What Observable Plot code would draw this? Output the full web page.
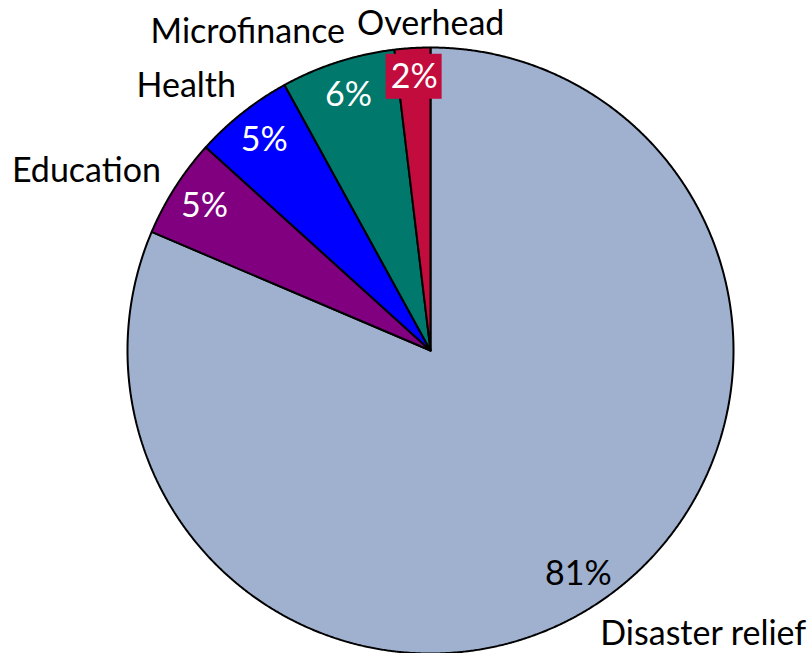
<!DOCTYPE html>
<html><head><meta charset="utf-8">
<script src="https://cdn.jsdelivr.net/npm/d3@7"></script>
<script src="https://cdn.jsdelivr.net/npm/@observablehq/plot@0.6"></script>
<style>body{margin:0;background:#fff} #chart svg{display:block}</style>
</head><body><div id="chart"></div>
<script>
// ---- data ----
const categories = ["Disaster relief", "Education", "Health", "Microfinance", "Overhead"];
const shares = [81.4, 5.3, 5.3, 6.1, 1.9];
const percentLabels = ["81%", "5%", "5%", "6%", "2%"];

// ---- styles / layout ----
const sliceColors = ["#9fb1cf", "#800080", "#0000ff", "#00786b", "#c20c3e"];
const percentInk = ["black", "white", "white", "white", "white"];
const percentBoxed = [false, false, false, false, true];
const percentRadius = [0.885, 0.885, 0.885, 0.885, 0.905];
const nameRadius = 1.04;
const nameNudgePx = [[-4, 8], [-4, 1], [1, -6], [11, -7], [19, -1]];
const R_PX = 303; // pixel radius = one data unit
const FONT = "Lato, 'Open Sans', sans-serif";
const FONT_SIZE = 34;

const arcs = d3.pie().sort(null).value(d => d)(shares);

// slice outlines (polygons in unit-circle data space, north = 0, clockwise)
const outline = [];
arcs.forEach((s, i) => {
  const n = Math.max(2, Math.ceil((s.endAngle - s.startAngle) / (Math.PI / 720)));
  outline.push({name: categories[i], x: 0, y: 0});
  for (let k = 0; k <= n; k++) {
    const a = s.startAngle + (s.endAngle - s.startAngle) * k / n;
    outline.push({name: categories[i], x: Math.sin(a), y: Math.cos(a)});
  }
  outline.push({name: categories[i], x: 0, y: 0});
});

const mid = s => (s.startAngle + s.endAngle) / 2;

const pct = arcs.map((s, i) => {
  const a = mid(s), r = percentRadius[i];
  return {i, text: percentLabels[i], x: r * Math.sin(a), y: r * Math.cos(a), ink: percentInk[i], boxed: percentBoxed[i]};
});

const names = arcs.map((s, i) => {
  const a = mid(s);
  const sx = Math.sin(a), cy = Math.cos(a);
  const horiz = Math.abs(sx) < 0.1 ? "middle" : sx > 0 ? "start" : "end";
  const vert = cy < 0 ? "top" : "bottom";
  return {
    text: categories[i],
    x: nameRadius * sx + nameNudgePx[i][0] / R_PX,
    y: nameRadius * cy - nameNudgePx[i][1] / R_PX,
    horiz, vert
  };
});

const boxHalfW = 28 / R_PX, boxHalfH = 22.5 / R_PX;
const boxes = pct.filter(d => d.boxed).map(d => ({
  name: categories[d.i], x1: d.x - boxHalfW, x2: d.x + boxHalfW, y1: d.y - boxHalfH, y2: d.y + boxHalfH
}));

const nameMarks = [];
for (const h of ["start", "middle", "end"]) for (const v of ["top", "bottom"]) {
  const sub = names.filter(d => d.horiz === h && d.vert === v);
  if (sub.length) nameMarks.push(Plot.text(sub, {x: "x", y: "y", text: "text", textAnchor: h, lineAnchor: v, fill: "black", fontSize: FONT_SIZE}));
}

const chart = Plot.plot({
  width: 810, height: 653,
  marginLeft: 127, marginRight: 77, marginTop: 47, marginBottom: 0,
  x: {domain: [-1, 1], axis: null},
  y: {domain: [-1, 1], axis: null},
  color: {domain: categories, range: sliceColors},
  style: {fontFamily: FONT, background: "white", overflow: "visible"},
  marks: [
    Plot.line(outline, {x: "x", y: "y", z: "name", fill: "name", stroke: "black", strokeWidth: 2, strokeLinejoin: "miter"}),
    Plot.rect(boxes, {x1: "x1", x2: "x2", y1: "y1", y2: "y2", fill: "name"}),
    Plot.text(pct.filter(d => d.ink === "black"), {x: "x", y: "y", text: "text", fill: "black", fontSize: FONT_SIZE}),
    Plot.text(pct.filter(d => d.ink === "white"), {x: "x", y: "y", text: "text", fill: "white", fontSize: FONT_SIZE}),
    ...nameMarks
  ]
});
document.getElementById("chart").append(chart);
</script>
</body></html>
